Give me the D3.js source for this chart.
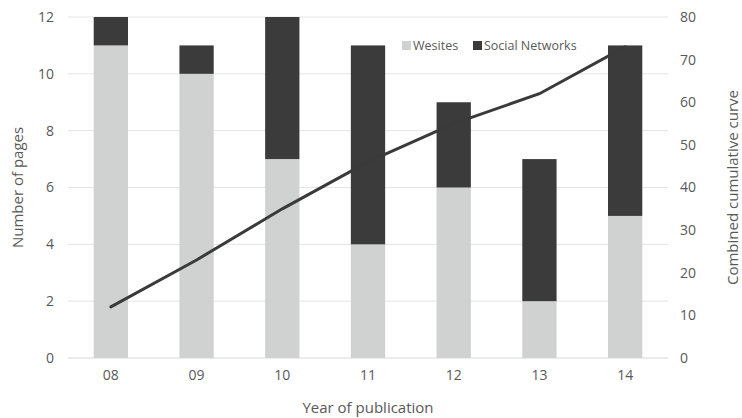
<!DOCTYPE html>
<html>
<head>
<meta charset="utf-8">
<script src="https://cdn.jsdelivr.net/npm/d3@7"></script>
<style>
  body { margin: 0; background: #fff; }
  text { font-family: "Open Sans", "Liberation Sans", sans-serif; fill: #595959; }
</style>
</head>
<body>
<div id="chart"></div>
<script>
var years = ["08", "09", "10", "11", "12", "13", "14"];
var websites = [11, 10, 7, 4, 6, 2, 5];
var socialNetworks = [1, 1, 5, 7, 3, 5, 6];
var cumulative = [12, 23, 35, 46, 55, 62, 73];
var leftTicks = [0, 2, 4, 6, 8, 10, 12];
var rightTicks = [0, 10, 20, 30, 40, 50, 60, 70, 80];

var svgWidth = 742;
var svgHeight = 418;
var margin = { top: 17, right: 74, bottom: 60, left: 68 };
var width = svgWidth - margin.left - margin.right;
var height = svgHeight - margin.top - margin.bottom;

var svg = d3.select("#chart").append("svg")
  .attr("width", svgWidth)
  .attr("height", svgHeight);

var chartGroup = svg.append("g")
  .attr("transform", `translate(${margin.left}, ${margin.top})`);

var xScale = d3.scaleBand().domain(years).range([0, width]).paddingInner(0.6).paddingOuter(0.3);
var yLeft = d3.scaleLinear().domain([0, 12]).range([height, 0]);
var yRight = d3.scaleLinear().domain([0, 80]).range([height, 0]);

// gridlines
chartGroup.selectAll(".grid").data(leftTicks).enter().append("line")
  .attr("x1", 0).attr("x2", width)
  .attr("y1", d => yLeft(d)).attr("y2", d => yLeft(d))
  .attr("stroke", d => d === 0 ? "#d9d9d9" : "#e4e4e4")
  .attr("stroke-width", 1);

// stacked bars
var stackData = years.map((y, i) => ({ year: y, web: websites[i], social: socialNetworks[i] }));
var series = d3.stack().keys(["web", "social"])(stackData);
var colors = { web: "#d0d1d1", social: "#3b3b3b" };

series.forEach(function(s) {
  chartGroup.selectAll(null).data(s).enter().append("rect")
    .attr("x", d => xScale(d.data.year))
    .attr("width", xScale.bandwidth())
    .attr("y", d => yLeft(d[1]))
    .attr("height", d => yLeft(d[0]) - yLeft(d[1]))
    .attr("fill", colors[s.key]);
});

// cumulative line
var line = d3.line()
  .x((d, i) => xScale(years[i]) + xScale.bandwidth() / 2)
  .y(d => yRight(d));

chartGroup.append("path")
  .datum(cumulative)
  .attr("d", line)
  .attr("fill", "none")
  .attr("stroke", "#3a3a3a")
  .attr("stroke-width", 3)
  .attr("stroke-linecap", "round");

// left axis
var leftAxis = d3.axisLeft(yLeft).tickValues(leftTicks).tickSize(0).tickPadding(14);
var lg = chartGroup.append("g").call(leftAxis);
lg.select(".domain").remove();
lg.selectAll("text").style("font-size", "14px").style("fill", "#595959");

// right axis
var rightAxis = d3.axisRight(yRight).tickValues(rightTicks).tickSize(0).tickPadding(12);
var rg = chartGroup.append("g").attr("transform", `translate(${width}, 0)`).call(rightAxis);
rg.select(".domain").remove();
rg.selectAll("text").style("font-size", "14px").style("fill", "#595959");

// bottom axis
var bottomAxis = d3.axisBottom(xScale).tickSize(0).tickPadding(12);
var bg = chartGroup.append("g").attr("transform", `translate(0, ${height})`).call(bottomAxis);
bg.select(".domain").remove();
bg.selectAll("text").style("font-size", "14px").style("fill", "#595959");

// axis titles
svg.append("text")
  .attr("transform", "rotate(-90)")
  .attr("x", -(margin.top + height / 2))
  .attr("y", 23)
  .attr("text-anchor", "middle")
  .style("font-size", "15px")
  .text("Number of pages");

svg.append("text")
  .attr("transform", "rotate(-90)")
  .attr("x", -(margin.top + height / 2))
  .attr("y", 738)
  .attr("text-anchor", "middle")
  .style("font-size", "15px")
  .text("Combined cumulative curve");

svg.append("text")
  .attr("x", margin.left + width / 2)
  .attr("y", 413)
  .attr("text-anchor", "middle")
  .style("font-size", "15px")
  .text("Year of publication");

// legend
var legendItems = [
  { label: "Wesites", color: colors.web, x: 402 },
  { label: "Social Networks", color: colors.social, x: 473 }
];
var legend = svg.append("g");
legendItems.forEach(function(d) {
  legend.append("rect")
    .attr("x", d.x).attr("y", 41)
    .attr("width", 9).attr("height", 9)
    .attr("fill", d.color);
  legend.append("text")
    .attr("x", d.x + 11).attr("y", 50)
    .style("font-size", "12.5px")
    .text(d.label);
});
</script>
</body>
</html>
